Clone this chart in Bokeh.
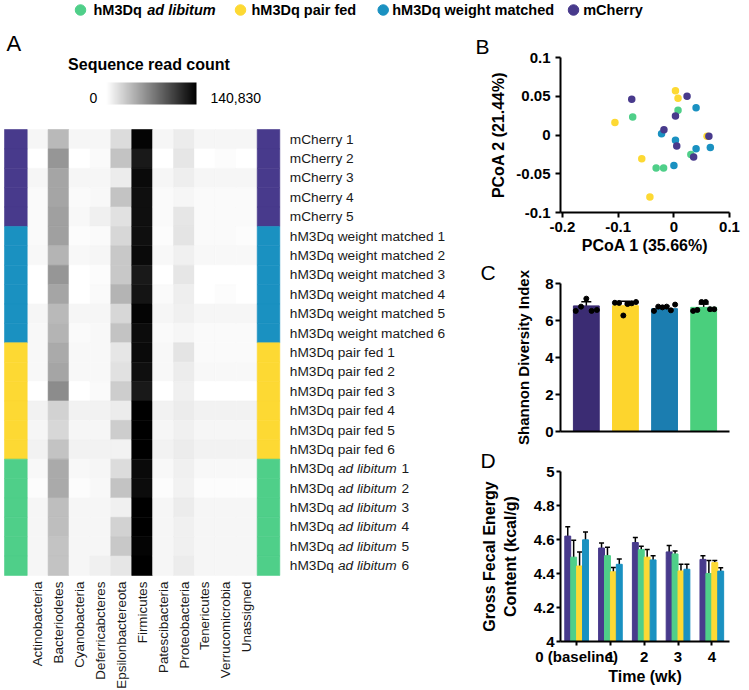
import numpy as np
from bokeh.plotting import figure
from bokeh.layouts import row, column
from bokeh.models import (ColumnDataSource, Range1d, LinearColorMapper, ColorBar,
                          FixedTicker, Title, Whisker, TeeHead, PrintfTickFormatter)
from bokeh.core.properties import value
from bokeh.palettes import Greys256
from bokeh.embed import file_html
from bokeh.resources import INLINE

FONT = "Liberation Sans"

# ---------------- groups ----------------
GROUPS = ["hM3Dq ad libitum", "hM3Dq pair fed", "hM3Dq weight matched", "mCherry"]
GROUP_COLORS = {"hM3Dq ad libitum": "#4fcf89", "hM3Dq pair fed": "#fdd933",
                "hM3Dq weight matched": "#1a91c1", "mCherry": "#483a8c"}

# ---------------- panel A : heatmap ----------------
PHYLA = ["Actinobacteria", "Bacteriodetes", "Cyanobacteria", "Deferricabcteres",
         "Epsilonbactereota", "Firmicutes", "Patescibacteria", "Proteobacteria",
         "Tenericutes", "Verrucomicrobia", "Unassigned"]
SAMPLE_GROUP = ["mCherry", "mCherry", "mCherry", "mCherry", "mCherry",
                "hM3Dq weight matched", "hM3Dq weight matched", "hM3Dq weight matched",
                "hM3Dq weight matched", "hM3Dq weight matched", "hM3Dq weight matched",
                "hM3Dq pair fed", "hM3Dq pair fed", "hM3Dq pair fed",
                "hM3Dq pair fed", "hM3Dq pair fed", "hM3Dq pair fed",
                "hM3Dq ad libitum", "hM3Dq ad libitum", "hM3Dq ad libitum",
                "hM3Dq ad libitum", "hM3Dq ad libitum", "hM3Dq ad libitum"]
SAMPLE_NUM = [1, 2, 3, 4, 5, 1, 2, 3, 4, 5, 6, 1, 2, 3, 4, 5, 6, 1, 2, 3, 4, 5, 6]
COUNT_MAX = 140830

actinobacteria = [5500, 0, 5500, 2800, 2800, 2800, 3900, 0, 0, 5500, 3900,
                  3900, 3900, 0, 7200, 5500, 7200, 3900, 1700, 5500, 5000, 5000, 5000]
bacteriodetes = [38700, 58000, 49700, 49700, 52500, 52500, 41400, 58000, 49700, 38700, 41400,
                 46900, 49700, 63500, 24900, 22100, 33100, 46900, 46900, 35900, 35900, 33100, 33100]
cyanobacteria = [5500, 0, 5500, 2800, 3900, 1700, 3900, 0, 0, 5500, 2800,
                 3900, 3900, 0, 7200, 5500, 7200, 3900, 1700, 5500, 5000, 5000, 5000]
deferribacteres = [5500, 2800, 5500, 3900, 8300, 2800, 5500, 1700, 2800, 5500, 3900,
                   3900, 3900, 2800, 7200, 5500, 7200, 5500, 3900, 5500, 5000, 5000, 8300]
epsilonbacteraeota = [19300, 33100, 11000, 33100, 16600, 22100, 30400, 30400, 41400, 22100, 33100,
                      13800, 16600, 27600, 11000, 27600, 7200, 19300, 33100, 8300, 24900, 30400, 13800]
firmicutes = [138100, 127000, 135300, 132500, 132500, 132500, 135300, 127000, 129800, 138100, 134200,
              135300, 132500, 127000, 140830, 140830, 140830, 135300, 134200, 140830, 140830, 138100, 140830]
patescibacteria = [5500, 0, 5500, 2800, 2800, 1700, 3900, 0, 2800, 5500, 2800,
                   3900, 3900, 0, 7200, 5500, 7200, 3900, 1700, 5500, 5000, 5000, 5000]
proteobacteria = [11000, 13800, 9400, 5500, 13800, 14900, 8300, 13800, 9400, 8300, 5500,
                  14900, 11000, 8300, 11000, 8300, 11000, 8300, 7200, 11000, 8300, 8300, 11000]
tenericutes = [5500, 0, 5500, 2800, 2800, 2800, 3900, 0, 0, 5500, 2800,
               2800, 3900, 0, 7200, 5500, 7200, 3900, 1700, 5500, 5000, 5000, 5000]
verrucomicrobia = [5500, 1700, 5500, 2800, 2800, 2800, 3900, 0, 1700, 5500, 2800,
                   2800, 3900, 0, 7200, 5500, 7200, 3900, 1700, 5500, 5000, 5000, 5000]
unassigned = [5500, 0, 5500, 2800, 2800, 1700, 3900, 0, 0, 5500, 2800,
              2800, 3900, 0, 7200, 5500, 7200, 3900, 1700, 5500, 5000, 5000, 5000]
COUNTS = [actinobacteria, bacteriodetes, cyanobacteria, deferribacteres, epsilonbacteraeota,
          firmicutes, patescibacteria, proteobacteria, tenericutes, verrucomicrobia, unassigned]

# ---------------- panel B : PCoA ----------------
pcoa1_adlib = [-0.0738, 0.0076, -0.0317, -0.0183, 0.0306]
pcoa2_adlib = [0.0233, 0.0319, -0.0427, -0.0427, -0.0250]
pcoa1_pairfed = [-0.1057, 0.0030, 0.0076, -0.0575, -0.0429, 0.0597]
pcoa2_pairfed = [0.0160, 0.0570, 0.0474, -0.0306, -0.0800, -0.0017]
pcoa1_weight = [0.0400, -0.0220, 0.0030, 0.0002, 0.0400, 0.0656]
pcoa2_weight = [0.0353, 0.0017, -0.0069, -0.0392, -0.0177, -0.0160]
pcoa1_mcherry = [-0.0755, 0.0030, -0.0177, 0.0053, 0.0356, 0.0630, 0.0238]
pcoa2_mcherry = [0.0460, 0.0246, 0.0069, -0.0142, -0.0284, -0.0017, 0.0500]

# ---------------- panel C : Shannon ----------------
shannon_groups = ["mCherry", "hM3Dq pair fed", "hM3Dq weight matched", "hM3Dq ad libitum"]
shannon_colors = ["#3b2c73", "#fdd52d", "#1b7db0", "#4acf7d"]
shannon_mean = [6.79, 6.80, 6.64, 6.71]
shannon_sd = [0.23, 0.24, 0.15, 0.18]
shannon_mcherry = [6.52, 6.75, 7.18, 6.52, 6.57]
shannon_pairfed = [6.96, 6.95, 6.27, 6.89, 6.93, 7.00]
shannon_weight = [6.52, 6.75, 6.71, 6.75, 6.55, 6.86]
shannon_adlib = [6.52, 6.57, 7.00, 7.00, 6.61, 6.61]
shannon_points = [shannon_mcherry, shannon_pairfed, shannon_weight, shannon_adlib]

# ---------------- panel D : fecal energy ----------------
time_labels = ["0 (baseline)", "1", "2", "3", "4"]
energy_mcherry = [4.620, 4.550, 4.582, 4.527, 4.483]
energy_mcherry_err = [0.055, 0.030, 0.030, 0.037, 0.022]
energy_adlib = [4.496, 4.505, 4.540, 4.515, 4.400]
energy_adlib_err = [0.100, 0.050, 0.020, 0.018, 0.077]
energy_pairfed = [4.444, 4.410, 4.496, 4.415, 4.464]
energy_pairfed_err = [0.083, 0.025, 0.045, 0.040, 0.013]
energy_weight = [4.598, 4.454, 4.480, 4.425, 4.414]
energy_weight_err = [0.046, 0.032, 0.025, 0.030, 0.020]


def blank(p):
    p.xgrid.visible = False
    p.ygrid.visible = False
    p.outline_line_color = None


def style_axes(p, tick_px="15px"):
    blank(p)
    for ax in p.axis:
        ax.axis_line_width = 2
        ax.axis_line_color = "black"
        ax.major_tick_line_width = 2
        ax.major_tick_line_color = "black"
        ax.major_tick_in = 0
        ax.major_tick_out = 5
        ax.minor_tick_line_color = None
        ax.major_label_text_font = FONT
        ax.major_label_text_font_style = "bold"
        ax.major_label_text_font_size = tick_px
        ax.major_label_text_color = "black"
        ax.axis_label_text_font = FONT
        ax.axis_label_text_font_style = "bold"
        ax.axis_label_text_font_size = "16px"
        ax.axis_label_text_color = "black"


def panel_letter(p, text, offset):
    p.add_layout(Title(text=text, align="left", offset=offset, standoff=0,
                       vertical_align="bottom", text_font=FONT, text_font_size="21px",
                       text_font_style="normal", text_color="black"), "above")


# ================= legend strip =================
LEG_H = 21
pL = figure(width=749, height=LEG_H, x_range=Range1d(0, 749), y_range=Range1d(0, LEG_H),
            x_axis_location=None, y_axis_location=None, min_border=0,
            toolbar_location=None, output_backend="svg", title=None)
blank(pL)
leg_y = LEG_H - 9.5
leg_dot_x = [80, 240, 382.7, 573]
leg_txt_x = [93, 251, 391.7, 582.7]
pL.scatter(x=leg_dot_x, y=[leg_y] * 4, size=10.5, color=[GROUP_COLORS[g] for g in GROUPS])
leg_common = dict(text_font=value(FONT), text_font_size="14.5px", text_font_style="bold",
                  text_baseline="middle", text_align="left", text_color="black")
pL.text(x=[leg_txt_x[0]], y=[leg_y], text=["hM3Dq"], **leg_common)
pL.text(x=[146.7], y=[leg_y], text=["ad libitum"], **{**leg_common, "text_font_style": "bold italic"})
pL.text(x=leg_txt_x[1:], y=[leg_y] * 3, text=GROUPS[1:], **leg_common)

# ================= panel A =================
COL0, COLW = 26.7, 20.91   # heatmap left edge / column width (px)
ROW0, ROWH = 129.0, 19.39  # heatmap top edge / row height (px)
A_TOP, A_LEFT, A_W, A_H = LEG_H, 0, 462, 668


def ax_(px):
    return (px - COL0) / COLW


def ay_(py):
    return (py - ROW0) / ROWH


pA = figure(width=A_W, height=A_H,
            x_range=Range1d(ax_(A_LEFT), ax_(A_LEFT + A_W)),
            y_range=Range1d(ay_(A_TOP + A_H), ay_(A_TOP)),
            x_axis_location=None, y_axis_location=None, min_border=0,
            toolbar_location=None, output_backend="svg", title=None)
blank(pA)

mapper = LinearColorMapper(palette=list(reversed(Greys256)), low=0, high=COUNT_MAX)
hx, hy, hc = [], [], []
for j, col in enumerate(COUNTS):
    for i, c in enumerate(col):
        hx.append(j + 0.5)
        hy.append(i + 0.5)
        hc.append(c)
srcA = ColumnDataSource(dict(x=hx, y=hy, count=hc))
pA.rect(x="x", y="y", width=1, height=1, source=srcA,
        fill_color={"field": "count", "transform": mapper},
        line_color={"field": "count", "transform": mapper}, line_width=0.6)

n_rows = len(SAMPLE_GROUP)
n_cols = len(PHYLA)
strip_colors = [GROUP_COLORS[g] for g in SAMPLE_GROUP]
rows_y = [i + 0.5 for i in range(n_rows)]
lw = (COL0 - 4) / COLW
rw = (279.3 - (COL0 + n_cols * COLW)) / COLW
pA.rect(x=[-lw / 2] * n_rows, y=rows_y, width=lw, height=1, color=strip_colors, line_width=0.6)
pA.rect(x=[n_cols + rw / 2] * n_rows, y=rows_y, width=rw, height=1, color=strip_colors, line_width=0.6)

lab = dict(text_font=value(FONT), text_font_size="13.7px", text_baseline="middle",
           text_align="left", text_color="#1a1a1a")
plain_y, plain_t = [], []
ital_y, ital_n = [], []
for i, (g, n) in enumerate(zip(SAMPLE_GROUP, SAMPLE_NUM)):
    if g == "hM3Dq ad libitum":
        ital_y.append(i + 0.5)
        ital_n.append(str(n))
    else:
        plain_y.append(i + 0.5)
        plain_t.append(f"{g} {n}")
pA.text(x=[ax_(289.3)] * len(plain_y), y=plain_y, text=plain_t, **lab)
pA.text(x=[ax_(289.3)] * len(ital_y), y=ital_y, text=["hM3Dq"] * len(ital_y), **lab)
pA.text(x=[ax_(337.5)] * len(ital_y), y=ital_y, text=["ad libitum"] * len(ital_y),
        **{**lab, "text_font_style": "italic"})
pA.text(x=[ax_(401)] * len(ital_y), y=ital_y, text=ital_n, **lab)

pA.text(x=[j + 0.5 for j in range(n_cols)], y=[ay_(581)] * n_cols, text=PHYLA,
        angle=np.pi / 2, text_font=value(FONT), text_font_size="13.4px",
        text_align="right", text_baseline="middle", text_color="#1a1a1a")

pA.text(x=[ax_(6)], y=[ay_(43)], text=["A"], text_font=value(FONT), text_font_size="22px",
        text_baseline="middle", text_align="left", text_color="black")
pA.text(x=[ax_(148.5)], y=[ay_(64)], text=["Sequence read count"], text_font=value(FONT),
        text_font_size="16px", text_font_style="bold", text_baseline="middle",
        text_align="center", text_color="black")
pA.text(x=[ax_(93)], y=[ay_(97)], text=["0"], text_font=value(FONT), text_font_size="14px",
        text_baseline="middle", text_align="center", text_color="black")
pA.text(x=[ax_(210)], y=[ay_(97)], text=[f"{COUNT_MAX:,}"], text_font=value(FONT),
        text_font_size="14px", text_baseline="middle", text_align="left", text_color="black")

cbar = ColorBar(color_mapper=mapper, orientation="horizontal",
                location=(106 - A_LEFT, A_TOP + A_H - 104),
                width=90, height=22, padding=0, margin=0, ticker=FixedTicker(ticks=[]),
                major_label_text_font_size="0px", major_tick_line_color=None,
                minor_tick_line_color=None, bar_line_color=None, border_line_color=None,
                background_fill_alpha=0, title=None, label_standoff=0)
pA.add_layout(cbar)

RW = 749 - A_W  # right column width
B_H, C_H = 237, 188
D_H = A_H - B_H - C_H

# ================= panel B =================
pB = figure(width=RW, height=B_H, x_range=Range1d(-0.2034, 0.1), y_range=Range1d(-0.1, 0.1),
            min_border_left=98, min_border_right=RW - 98 - 180, min_border_top=36, min_border_bottom=46,
            toolbar_location=None, output_backend="svg", title=None)
style_axes(pB)
pB.xaxis.ticker = FixedTicker(ticks=[-0.2, -0.1, 0, 0.1])
pB.yaxis.ticker = FixedTicker(ticks=[-0.1, -0.05, 0, 0.05, 0.1])
pB.xaxis.formatter = PrintfTickFormatter(format="%g")
pB.yaxis.formatter = PrintfTickFormatter(format="%g")
pB.xaxis.axis_label = "PCoA 1 (35.66%)"
pB.yaxis.axis_label = "PCoA 2 (21.44%)"
pB.xaxis.major_label_standoff = 4
pB.yaxis.major_label_standoff = 5
pB.xaxis.axis_label_standoff = 2
pB.yaxis.axis_label_standoff = 6
for xs, ys, g in [(pcoa1_adlib, pcoa2_adlib, "hM3Dq ad libitum"),
                  (pcoa1_pairfed, pcoa2_pairfed, "hM3Dq pair fed"),
                  (pcoa1_weight, pcoa2_weight, "hM3Dq weight matched"),
                  (pcoa1_mcherry, pcoa2_mcherry, "mCherry")]:
    pB.scatter(x=xs, y=ys, size=7.5, color=GROUP_COLORS[g], line_color=None)
panel_letter(pB, "B", -85)

# ================= panel C =================
pC = figure(width=RW, height=C_H, x_range=Range1d(-0.66, 3.66), y_range=Range1d(0, 8),
            min_border_left=93, min_border_right=RW - 93 - 174, min_border_top=24,
            min_border_bottom=C_H - 24 - 149,
            toolbar_location=None, output_backend="svg", title=None)
style_axes(pC)
pC.yaxis.ticker = FixedTicker(ticks=[0, 2, 4, 6, 8])
pC.yaxis.formatter = PrintfTickFormatter(format="%g")
pC.xaxis.ticker = FixedTicker(ticks=[])
pC.yaxis.axis_label = "Shannon Diversity Index"
pC.yaxis.axis_label_text_font_size = "15px"
pC.yaxis.major_label_standoff = 2
pC.yaxis.axis_label_standoff = 10
srcC = ColumnDataSource(dict(x=list(range(4)), top=shannon_mean,
                             upper=[m + s for m, s in zip(shannon_mean, shannon_sd)],
                             color=shannon_colors))
pC.vbar(x="x", top="top", width=0.66, color="color", source=srcC)
pC.add_layout(Whisker(base="x", lower="top", upper="upper", source=srcC, line_width=1.5,
                      line_color="black", lower_head=None,
                      upper_head=TeeHead(size=10, line_width=1.5, line_color="black")))
dx, dy = [], []
for k, pts in enumerate(shannon_points):
    offs = np.linspace(-0.27, 0.27, len(pts))
    dx.extend(k + offs)
    dy.extend(pts)
pC.scatter(x=dx, y=dy, size=5, color="black")
panel_letter(pC, "C", -80)

# ================= panel D =================
pD = figure(width=RW, height=D_H, x_range=Range1d(-0.477, 4.523), y_range=Range1d(4, 5),
            min_border_left=93, min_border_right=RW - 93 - 192, min_border_top=20, min_border_bottom=48,
            toolbar_location=None, output_backend="svg", title=None)
style_axes(pD)
pD.yaxis.ticker = FixedTicker(ticks=[4, 4.2, 4.4, 4.6, 4.8, 5])
pD.yaxis.formatter = PrintfTickFormatter(format="%g")
pD.xaxis.ticker = FixedTicker(ticks=list(range(len(time_labels))))
pD.xaxis.major_label_overrides = {i: t for i, t in enumerate(time_labels)}
pD.xaxis.axis_label = "Time (wk)"
pD.yaxis.axis_label = "Gross Fecal Energy\nContent (kcal/g)"
for ax in pD.axis:
    ax.major_tick_out = 4
    ax.major_label_standoff = 2
pD.xaxis.axis_label_standoff = 0
pD.yaxis.axis_label_standoff = 12
bar_w = 0.175
d_series = [("mCherry", energy_mcherry, energy_mcherry_err),
            ("hM3Dq ad libitum", energy_adlib, energy_adlib_err),
            ("hM3Dq pair fed", energy_pairfed, energy_pairfed_err),
            ("hM3Dq weight matched", energy_weight, energy_weight_err)]
for k, (g, vals, errs) in enumerate(d_series):
    off = (k - 1.5) * bar_w
    src = ColumnDataSource(dict(x=[t + off for t in range(len(vals))], top=vals,
                                lo=[v - e for v, e in zip(vals, errs)],
                                hi=[v + e for v, e in zip(vals, errs)]))
    pD.vbar(x="x", top="top", bottom=0, width=bar_w, color=GROUP_COLORS[g], source=src)
    pD.add_layout(Whisker(base="x", lower="lo", upper="hi", source=src, line_width=1.5,
                          line_color="black",
                          lower_head=TeeHead(size=5, line_width=1.5, line_color="black"),
                          upper_head=TeeHead(size=5, line_width=1.5, line_color="black")))
panel_letter(pD, "D", -80)

layout = column(pL, row(pA, column(pB, pC, pD)))
open("out.html", "w").write(file_html(layout, INLINE, "Figure"))
